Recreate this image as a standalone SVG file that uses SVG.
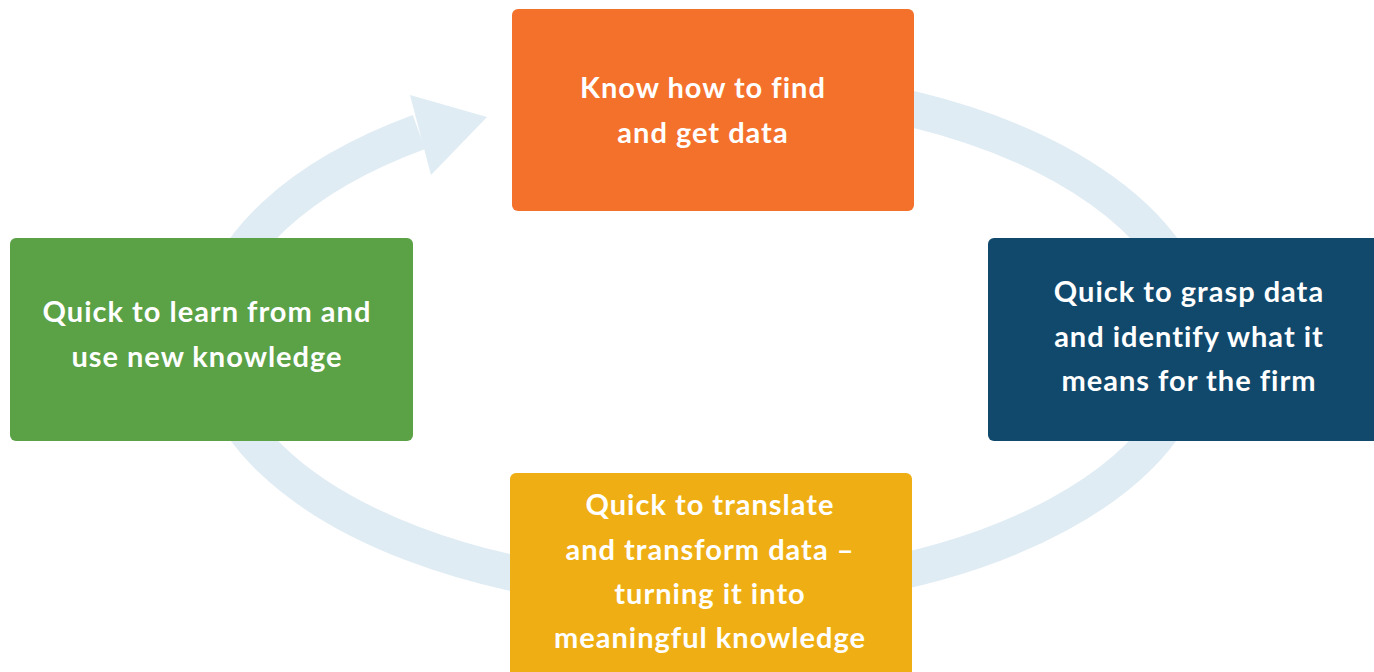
<svg xmlns="http://www.w3.org/2000/svg" width="1374" height="672" viewBox="0 0 1374 672">
  <style>
    .box { stroke: none; }
    .label { font-family: "Lato", "Noto Sans", "Liberation Sans", sans-serif; font-weight: 700; font-size: 29px; fill: #ffffff; text-anchor: middle; letter-spacing: 1px; }
    .ring { fill: none; stroke: #E0ECF4; stroke-width: 36; }
  </style>
  <rect width="1374" height="672" fill="#ffffff"/>

  <!-- cycle ring with arrowhead pointing at the top box -->
  <g id="connectors">
    <path class="ring" d="M 703 85 A 491 254 0 1 1 419 132"/>
    <polygon points="410,95 487,117 431,175" fill="#E0ECF4"/>
  </g>

  <g id="node-find">
    <rect class="box" x="512" y="9" width="402" height="202" rx="6" fill="#F3712B"/>
    <text class="label" x="703" y="98">Know how to find</text>
    <text class="label" x="703" y="143">and get data</text>
  </g>

  <g id="node-grasp">
    <rect class="box" x="988" y="238" width="400" height="203" rx="6" fill="#11496D"/>
    <text class="label" x="1189" y="302">Quick to grasp data</text>
    <text class="label" x="1189" y="347">and identify what it</text>
    <text class="label" x="1189" y="391">means for the firm</text>
  </g>

  <g id="node-translate">
    <rect class="box" x="510" y="473" width="402" height="215" rx="6" fill="#EFAF14"/>
    <text class="label" x="710" y="515">Quick to translate</text>
    <text class="label" x="710" y="560">and transform data –</text>
    <text class="label" x="710" y="604">turning it into</text>
    <text class="label" x="710" y="648">meaningful knowledge</text>
  </g>

  <g id="node-learn">
    <rect class="box" x="10" y="238" width="403" height="203" rx="6" fill="#5BA146"/>
    <text class="label" x="207" y="322">Quick to learn from and</text>
    <text class="label" x="207" y="367">use new knowledge</text>
  </g>
</svg>
